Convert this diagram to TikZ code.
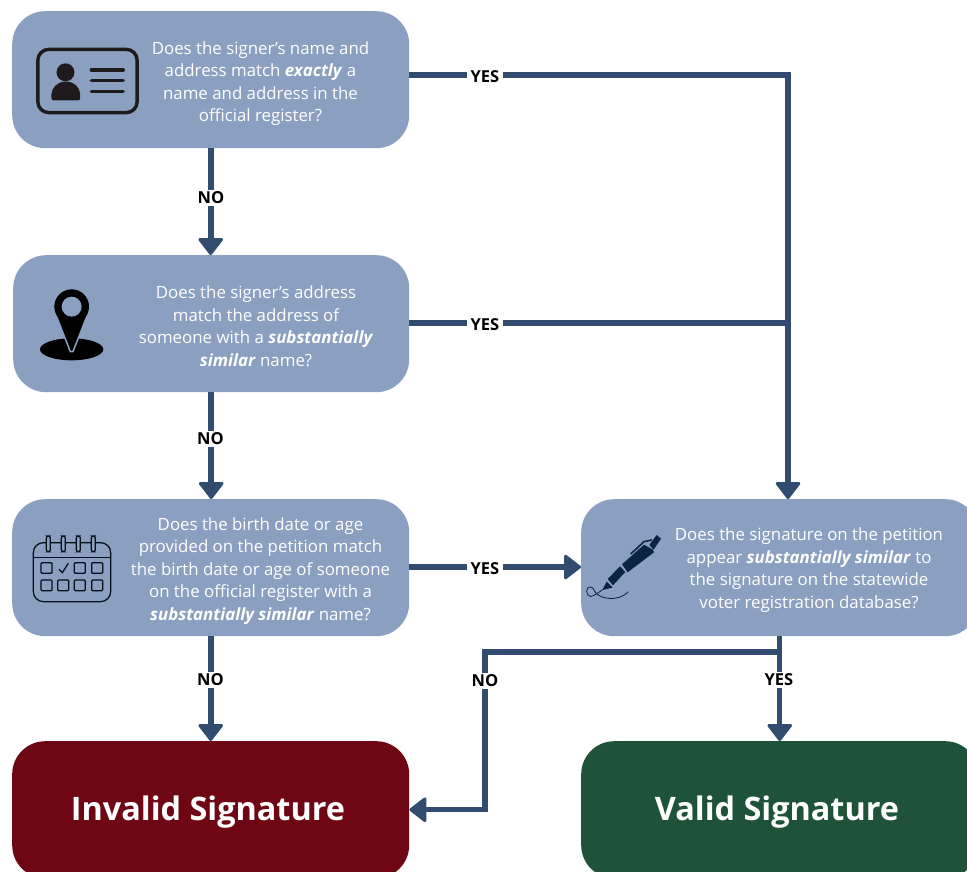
\documentclass[tikz,border=0pt]{standalone}
\usepackage{fontspec}
\setmainfont{Open Sans}
\usetikzlibrary{arrows.meta}
\definecolor{boxblue}{HTML}{8BA0C0}
\definecolor{linkblue}{HTML}{314C6E}
\definecolor{badred}{HTML}{6F0614}
\definecolor{goodgreen}{HTML}{1E5339}
\definecolor{penblue}{HTML}{0B2442}
\definecolor{iconblack}{HTML}{1F1A1C}
\tikzset{
  x=1pt,y=-1pt,
  qbox/.style={fill=boxblue,rounded corners=33pt,minimum width=397pt,minimum height=137pt,inner sep=0pt,anchor=north west},
  qtext/.style={text=white,align=center,inner sep=0pt,font=\fontsize{16.85}{22.5}\selectfont},
  endtext/.style={text=white,inner sep=0pt,font=\bfseries\fontsize{32.4}{38}\selectfont},
  bighead/.style={-{Triangle[width=27pt,length=18pt,round,line width=3pt]}},
  link/.style={draw=linkblue,line width=6.2pt},
  linkarrow/.style={link,bighead},
  thinlink/.style={draw=linkblue,line width=5.5pt},
  thinarrow/.style={thinlink,bighead},
  tag/.style={fill=white,text=black,inner xsep=4pt,inner ysep=2pt,font=\bfseries\fontsize{16.5}{18}\selectfont}
}
\begin{document}
\begin{tikzpicture}
\clip (0,0) rectangle (967,872);
\fill[white] (0,0) rectangle (967,872);
% boxes
\node[qbox] (b1) at (12,11) {};
\node[qbox,minimum width=396pt] (b2) at (13,255) {};
\node[qbox] (b3) at (12,499) {};
\node[qbox] (b4) at (581,499) {};
\node[qbox,fill=badred] (bad) at (12,741) {};
\node[qbox,fill=goodgreen] (good) at (581,741) {};
\node[endtext] (badt) at (208,812) {Invalid Signature};
\node[endtext] (goodt) at (777,812) {Valid Signature};
% junctions
\coordinate (j1) at (788,75);
\coordinate (j2) at (788,323);
\coordinate (j3) at (779,652);
\coordinate (j4) at (485,652);
% connectors
\draw[link] (b1.east |- j1) -- (j1) -- (j2);
\draw[link] (b2.east |- j2) -- (j2);
\draw[linkarrow] (j2) -- (j2 |- b4.north);
\draw[linkarrow] (b3.east |- 0,567) -- (b4.west |- 0,567);
\draw[linkarrow] (b1.south) -- (b1.south |- b2.north);
\draw[linkarrow] (b2.south) -- (b2.south |- b3.north);
\draw[linkarrow] (b3.south) -- (b3.south |- bad.north);
\draw[thinarrow] (b4.south) -- (good.north);
\draw[thinarrow,line join=miter] (j3) -- (j4) -- (j4 |- bad.east) -- (bad.east);
% tags
\node[tag] (y1) at (485,77) {YES};
\node[tag] (y2) at (485,325) {YES};
\node[tag] (y3) at (485,569) {YES};
\node[tag] (y4) at (779,680) {YES};
\node[tag] (n1) at (211,198) {NO};
\node[tag] (n2) at (210.5,439) {NO};
\node[tag] (n3) at (210.5,680) {NO};
\node[tag] (n4) at (485,681) {NO};
% texts
\node[qtext] (t1) at (260.5,83.5) {Does the signer’s name and\\address match \textbf{\textit{exactly}} a\\name and address in the\\official register?};
\node[qtext] (t2) at (256,326) {Does the signer’s address\\match the address of\\someone with a \textbf{\textit{substantially}}\\\textbf{\textit{similar}} name?};
\node[qtext] (t3) at (260.5,571) {Does the birth date or age\\provided on the petition match\\the birth date or age of someone\\on the official register with a\\\textbf{\textit{substantially similar}} name?};
\node[qtext] (t4) at (809,570) {Does the signature on the petition\\appear \textbf{\textit{substantially similar}} to\\the signature on the statewide\\voter registration database?};
% ID card icon
\begin{scope}[shift={(10.5,10)},x=.3333pt,y=-.3333pt]
\draw[iconblack,line width=3.4pt,rounded corners=11pt] (82,118) rectangle (380,308);
\fill[iconblack] (165,187) circle (27);
\fill[iconblack,rounded corners=2pt] (123,271) -- (123,258) .. controls (123,232) and (145,215) .. (166,215) .. controls (188,215) and (209,232) .. (209,258) -- (209,271) -- cycle;
\draw[iconblack,line width=3.6pt,line cap=round] (243,180) -- (338,180) (243,212) -- (338,212) (243,244) -- (338,244);
\end{scope}
% location pin icon
\begin{scope}[shift={(10,270)},x=.3333pt,y=-.3333pt]
\fill[black] (185,238) ellipse (95 and 33);
\path[fill=black,draw=boxblue,line width=1.5pt,line join=round] (138,135) .. controls (125,110) and (128,62) .. (185,60) .. controls (242,62) and (245,110) .. (232,135) -- (189,245) -- (181,245) -- cycle;
\fill[black] (185,110) circle (52);
\fill[boxblue] (185,110) circle (30);
\end{scope}
% calendar icon
\begin{scope}[shift={(10,520)},x=.3333pt,y=-.3333pt,every path/.append style={draw=penblue!40!black,line width=1.25pt}]
\draw[rounded corners=10pt] (70,68) rectangle (302,245);
\draw (70,113) -- (302,113);
\foreach \cx in {115,160,205,250}{
  \filldraw[fill=boxblue,rounded corners=2pt] (\cx-6,48) rectangle (\cx+6,95);
}
\foreach \cx in {93,193,245}{
  \draw[rounded corners=1pt] (\cx,128) rectangle +(33,32);
}
\foreach \cx in {93,143,193,245}{
  \draw[rounded corners=1pt] (\cx,180) rectangle +(33,32);
}
\draw (147,148) -- (157,158) -- (175,130);
\end{scope}
% pen icon
\begin{scope}[shift={(570,490)},x=.3333pt,y=-.3333pt]
\fill[penblue] (97,300) -- (110,275) -- (128,293) -- cycle;
\fill[penblue] (113,267) -- (150,229) -- (166,246) -- (129,286) -- cycle;
\fill[penblue] (156,223) -- (222,164) -- (249,179) -- (252,187) -- (173,247) -- cycle;
\fill[penblue] (238,165) -- (260,135) -- (273,146) -- (251,179) -- cycle;
\draw[penblue,line width=1.6pt] (182,192) -- (222,155) -- (246,150);
\draw[penblue,line width=.8pt] (100,298) .. controls (80,310) and (62,328) .. (54,315) .. controls (42,295) and (62,280) .. (72,300) .. controls (80,325) and (140,340) .. (175,305);
\end{scope}
\end{tikzpicture}
\end{document}
